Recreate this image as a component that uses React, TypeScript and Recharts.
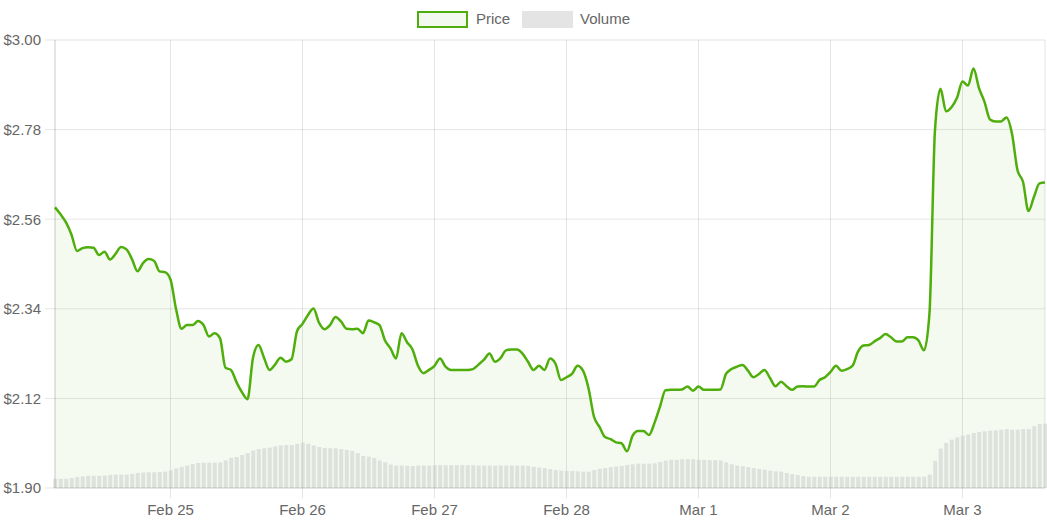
import React from "react";
import { ComposedChart, Area, Bar, XAxis, YAxis, CartesianGrid } from "recharts";

// Hourly points from Feb 24 03:00 to Mar 3 15:00 (index = hours since start)
const prices: number[] = [
  2.589, 2.572, 2.552, 2.522, 2.482, 2.489, 2.491, 2.49, 2.472, 2.48,
  2.461, 2.475, 2.492, 2.486, 2.462, 2.432, 2.452, 2.462, 2.458, 2.432,
  2.43, 2.412, 2.34, 2.291, 2.3, 2.3, 2.31, 2.3, 2.272, 2.28,
  2.268, 2.195, 2.19, 2.16, 2.135, 2.118, 2.22, 2.251, 2.22, 2.19,
  2.203, 2.22, 2.21, 2.216, 2.285, 2.303, 2.325, 2.341, 2.306, 2.29,
  2.3, 2.32, 2.309, 2.291, 2.29, 2.291, 2.28, 2.311, 2.307, 2.3,
  2.262, 2.243, 2.218, 2.28, 2.258, 2.24, 2.2, 2.182, 2.19, 2.2,
  2.218, 2.198, 2.19, 2.19, 2.19, 2.19, 2.192, 2.203, 2.215, 2.23,
  2.21, 2.219, 2.238, 2.24, 2.24, 2.23, 2.21, 2.19, 2.2, 2.19,
  2.218, 2.205, 2.165, 2.172, 2.18, 2.2, 2.188, 2.145, 2.075, 2.05,
  2.025, 2.02, 2.012, 2.01, 1.99, 2.028, 2.04, 2.04, 2.03, 2.06,
  2.1, 2.14, 2.141, 2.141, 2.142, 2.149, 2.139, 2.149, 2.141, 2.141,
  2.141, 2.142, 2.18, 2.192, 2.198, 2.202, 2.188, 2.172, 2.18, 2.19,
  2.17, 2.15, 2.161, 2.15, 2.141, 2.149, 2.15, 2.149, 2.149, 2.165,
  2.172, 2.185, 2.2, 2.188, 2.192, 2.2, 2.235, 2.25, 2.251, 2.26,
  2.268, 2.278, 2.27, 2.26, 2.26, 2.27, 2.27, 2.262, 2.238, 2.33,
  2.78, 2.88, 2.825, 2.835, 2.858, 2.898, 2.888, 2.93, 2.882, 2.848,
  2.805, 2.8, 2.8, 2.81, 2.77, 2.68, 2.652, 2.58, 2.615, 2.648, 2.65,
];

const volumes: number[] = [
  145, 145, 145, 155, 170, 180, 190, 190, 190, 195,
  205, 210, 210, 210, 220, 235, 240, 245, 245, 250,
  255, 275, 305, 330, 350, 375, 390, 395, 395, 395,
  400, 430, 470, 485, 515, 545, 585, 610, 620, 630,
  650, 665, 670, 670, 690, 710, 690, 665, 640, 625,
  620, 620, 610, 595, 580, 545, 500, 490, 470, 430,
  400, 365, 350, 350, 345, 345, 350, 350, 350, 355,
  355, 355, 355, 355, 355, 355, 355, 350, 350, 350,
  350, 350, 350, 350, 350, 350, 345, 330, 320, 310,
  295, 280, 270, 265, 265, 260, 255, 255, 280, 300,
  310, 325, 335, 345, 360, 370, 380, 380, 380, 385,
  405, 425, 440, 440, 450, 450, 450, 440, 440, 435,
  435, 430, 400, 370, 350, 340, 325, 310, 295, 285,
  270, 260, 255, 235, 215, 200, 185, 175, 175, 175,
  175, 175, 175, 175, 175, 175, 175, 175, 175, 175,
  175, 175, 175, 175, 175, 175, 175, 175, 175, 210,
  425, 615, 705, 755, 790, 815, 835, 860, 875, 885,
  895, 900, 910, 920, 910, 910, 920, 920, 965, 1000, 1005,
];

const tickHours: number[] = [21, 45, 69, 93, 117, 141, 165];
const tickLabels: string[] = ["Feb 25", "Feb 26", "Feb 27", "Feb 28", "Mar 1", "Mar 2", "Mar 3"];
const priceTicks: number[] = [1.9, 2.12, 2.34, 2.56, 2.78, 3.0];

const data = prices.map((p, i) => ({ t: i, price: p, volume: volumes[i] }));

const FONT = "'Liberation Sans', Arial, Helvetica, sans-serif";
const GRID = "rgba(0,0,0,0.1)";
const GREEN = "#4fae0c";

export default function App() {
  return (
    <div style={{ position: "relative", width: 1047, height: 523, fontFamily: FONT }}>
      <style>{`body{margin:0}`}</style>
      <div style={{ position: "absolute", left: 0, top: 0, width: 1047, height: 36, fontSize: 15, color: "#666" }}>
        <div style={{ position: "absolute", left: 417, top: 11, width: 47, height: 13, border: `2px solid ${GREEN}`, background: "#f3f9ee" }} />
        <div style={{ position: "absolute", left: 476, top: 10, lineHeight: "18px" }}>Price</div>
        <div style={{ position: "absolute", left: 522, top: 11, width: 51, height: 17, background: "#e4e4e4" }} />
        <div style={{ position: "absolute", left: 580, top: 10, lineHeight: "18px" }}>Volume</div>
      </div>
      <ComposedChart width={1047} height={523} data={data} margin={{ top: 40, right: 2, left: 0, bottom: 0 }}>
        <CartesianGrid stroke={GRID} yAxisId="price" />
        <XAxis
          type="number"
          dataKey="t"
          domain={[0, 180]}
          ticks={tickHours}
          interval={0}
          tickFormatter={(v: number) => tickLabels[tickHours.indexOf(v)] ?? ""}
          height={35}
          tickSize={10}
          tickMargin={6}
          tick={{ fill: "#666", fontSize: 15, fontFamily: FONT }}
          tickLine={{ stroke: GRID }}
          axisLine={{ stroke: GRID }}
        />
        <YAxis
          yAxisId="price"
          domain={[1.9, 3.0]}
          ticks={priceTicks}
          interval={0}
          width={55}
          tickSize={10}
          tickMargin={4}
          tickFormatter={(v: number) => `$${v.toFixed(2)}`}
          tick={{ fill: "#666", fontSize: 15, fontFamily: FONT }}
          tickLine={{ stroke: GRID }}
          axisLine={{ stroke: GRID }}
        />
        <YAxis yAxisId="vol" orientation="right" hide domain={[0, 7000]} />
        <Area
          yAxisId="price"
          dataKey="price"
          type="monotone"
          stroke={GREEN}
          strokeWidth={2.5}
          fill="rgba(76,175,0,0.06)"
          fillOpacity={1}
          dot={false}
          activeDot={false}
          isAnimationActive={false}
        />
        <Bar yAxisId="vol" dataKey="volume" barSize={4} fill="rgba(200,200,200,0.5)" isAnimationActive={false} />
      </ComposedChart>
    </div>
  );
}
